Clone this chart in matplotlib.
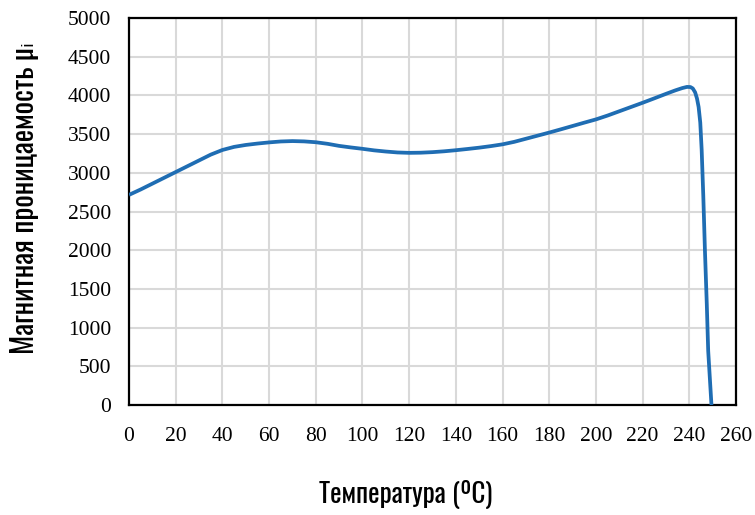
import numpy as np
import matplotlib
matplotlib.use('Agg')
import matplotlib.pyplot as plt

# temperature (C) vs initial permeability
temp = [0, 5, 10, 15, 20, 25, 30, 35, 40, 45, 50, 55, 60, 65, 70, 75, 80, 85,
        90, 95, 100, 105, 110, 115, 120, 125, 130, 135, 140, 145, 150, 155,
        160, 165, 170, 175, 180, 185, 190, 195, 200, 205, 210, 215, 220, 225,
        230, 234, 237, 239, 240.5, 241.5, 242.5, 243.3, 244, 244.7, 245.3,
        246, 246.7, 247.5, 248.1, 248.8, 249.5]
mu = [2715, 2785, 2860, 2935, 3010, 3085, 3160, 3235, 3295, 3335, 3360, 3378,
      3393, 3405, 3410, 3406, 3395, 3375, 3348, 3328, 3310, 3290, 3275, 3263,
      3258, 3260, 3267, 3278, 3292, 3308, 3325, 3345, 3368, 3400, 3440, 3480,
      3520, 3562, 3605, 3648, 3690, 3740, 3795, 3850, 3905, 3962, 4020, 4065,
      4095, 4110, 4108, 4090, 4040, 3960, 3850, 3650, 3300, 2700, 2000, 1300,
      700, 350, 0]

xticks = list(range(0, 261, 20))
yticks = list(range(0, 5001, 500))

label_font = ['Oswald', 'DejaVu Sans']

fig = plt.figure(figsize=(7.55, 5.15), dpi=100)
ax = fig.add_axes([0.1709, 0.2136, 0.8039, 0.7514])

ax.plot(temp, mu, color='#1f6db3', lw=2.7, solid_capstyle='butt',
        solid_joinstyle='round', zorder=3)

ax.set_xlim(0, 260)
ax.set_ylim(0, 5000)
ax.set_xticks(xticks)
ax.set_yticks(yticks)
ax.grid(True, color='#d9d9d9', lw=1.5)
ax.set_axisbelow(True)
for sp in ax.spines.values():
    sp.set_linewidth(1.6)
    sp.set_color('black')

ax.tick_params(length=0, labelsize=15.5, pad=16)
ax.tick_params(axis='y', pad=13)
for lb in ax.get_xticklabels() + ax.get_yticklabels():
    lb.set_family('Liberation Serif')

ax.set_xlabel('Температура (ºC)', family=label_font, fontsize=19.5)
ax.set_ylabel('Магнитная проницаемость µᵢ', family=label_font, fontsize=21)
ax.xaxis.label.set_va('baseline')
ax.yaxis.label.set_va('baseline')
# label positions are off-centre in the original
ax.xaxis.set_label_coords((406 - 129) / 607, (405 - 503) / 387)
ax.yaxis.set_label_coords((34 - 129) / 607, (405 - 198) / 387)

fig.savefig('out.png', dpi=100)
